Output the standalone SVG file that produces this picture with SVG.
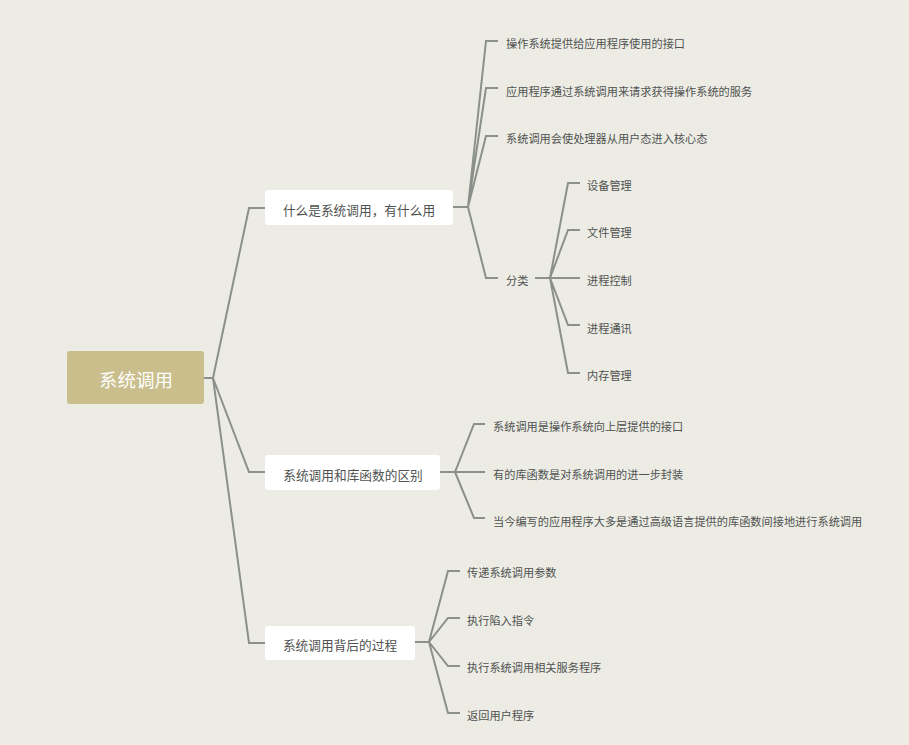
<svg xmlns="http://www.w3.org/2000/svg" width="909" height="745" viewBox="0 0 909 745">
<style>
.bg{fill:#ecece5}
.root{fill:#c9be8c}
.box{fill:#ffffff}
.rt{font-family:"Noto Sans CJK SC","Noto Sans",sans-serif;font-size:18.5px;fill:#ffffff;text-anchor:middle;dominant-baseline:central}
.nt{font-family:"Noto Sans CJK SC","Noto Sans",sans-serif;font-size:12.7px;fill:#505250;text-anchor:middle;dominant-baseline:central}
.lt{font-family:"Noto Sans CJK SC","Noto Sans",sans-serif;font-size:11.2px;fill:#505250;dominant-baseline:central}
.c{fill:none;stroke:#8b908b;stroke-width:2;stroke-linejoin:miter}
</style>
<rect class="bg" x="0" y="0" width="909" height="745"/>
<g id="connectors">
<path class="c" d="M204,378 H213 M213,378 L249,208 H265 M213,378 L249,472 H265 M213,378 L249,643 H265"/>
<path class="c" d="M453,207 H468 M468,207 L486,41 H498 M468,207 L486,88 H498 M468,207 L486,136 H498 M468,207 L486,278 H498"/>
<path class="c" d="M535,278 H550 M550,278 L568,183 H580 M550,278 L568,230 H580 M550,278 H580 M550,278 L568,325 H580 M550,278 L568,373 H580"/>
<path class="c" d="M440,472 H455 M455,472 L474,424 H485 M455,472 H485 M455,472 L474,518 H485"/>
<path class="c" d="M415,642 H429 M429,642 L448,571 H460 M429,642 L448,618 H460 M429,642 L448,666 H460 M429,642 L448,713 H460"/>
</g>
<g id="root"><rect class="root" x="67" y="351" width="137" height="53" rx="3"/><text class="rt" x="136" y="379">系统调用</text></g>
<g id="n1"><rect class="box" x="265" y="190" width="188" height="35" rx="3"/><text class="nt" x="359" y="209">什么是系统调用，有什么用</text></g>
<g id="n2"><rect class="box" x="265" y="455" width="175" height="35" rx="3"/><text class="nt" x="353" y="474">系统调用和库函数的区别</text></g>
<g id="n3"><rect class="box" x="265" y="626" width="150" height="34" rx="3"/><text class="nt" x="340" y="644">系统调用背后的过程</text></g>
<g id="n1a"><text class="lt" x="506" y="43">操作系统提供给应用程序使用的接口</text></g>
<g id="n1b"><text class="lt" x="506" y="91">应用程序通过系统调用来请求获得操作系统的服务</text></g>
<g id="n1c"><text class="lt" x="506" y="138">系统调用会使处理器从用户态进入核心态</text></g>
<g id="n1d"><text class="lt" x="506" y="280">分类</text></g>
<g id="n1d1"><text class="lt" x="587" y="185">设备管理</text></g>
<g id="n1d2"><text class="lt" x="587" y="232">文件管理</text></g>
<g id="n1d3"><text class="lt" x="587" y="280">进程控制</text></g>
<g id="n1d4"><text class="lt" x="587" y="328">进程通讯</text></g>
<g id="n1d5"><text class="lt" x="587" y="375">内存管理</text></g>
<g id="n2a"><text class="lt" x="493" y="426">系统调用是操作系统向上层提供的接口</text></g>
<g id="n2b"><text class="lt" x="493" y="474">有的库函数是对系统调用的进一步封装</text></g>
<g id="n2c"><text class="lt" x="493" y="521">当今编写的应用程序大多是通过高级语言提供的库函数间接地进行系统调用</text></g>
<g id="n3a"><text class="lt" x="467" y="572">传递系统调用参数</text></g>
<g id="n3b"><text class="lt" x="467" y="620">执行陷入指令</text></g>
<g id="n3c"><text class="lt" x="467" y="667">执行系统调用相关服务程序</text></g>
<g id="n3d"><text class="lt" x="467" y="715">返回用户程序</text></g>
</svg>
